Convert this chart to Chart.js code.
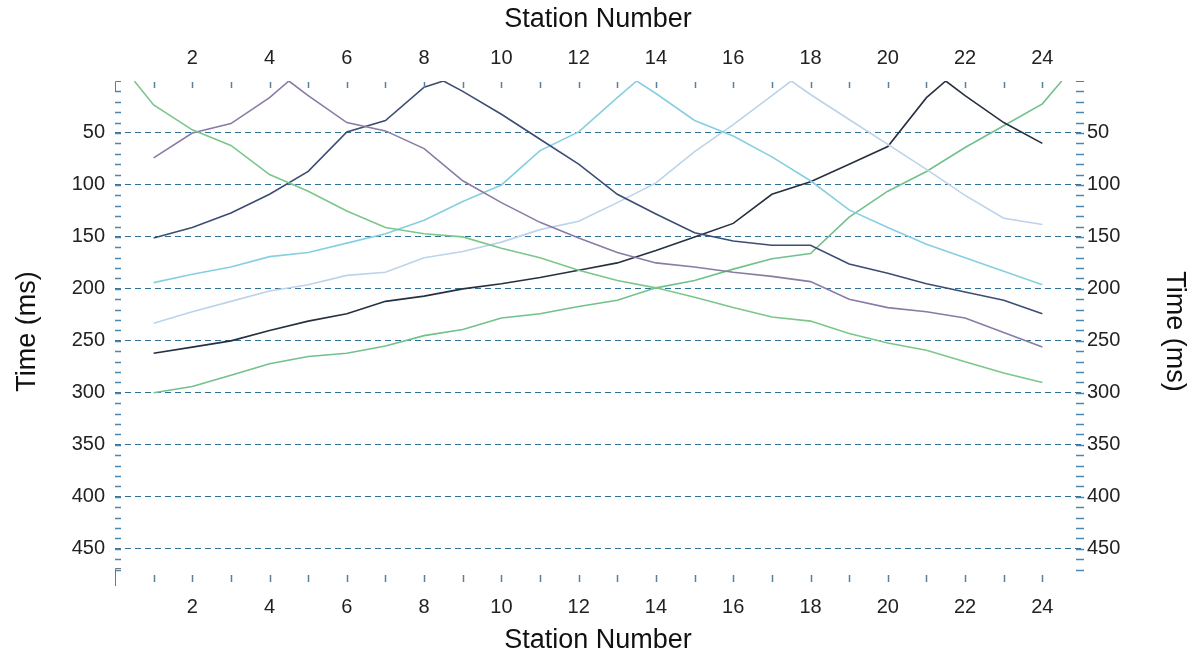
<!DOCTYPE html>
<html><head><meta charset="utf-8">
<script src="https://cdn.jsdelivr.net/npm/chart.js@4.4.1/dist/chart.umd.min.js"></script>
<style>html,body{margin:0;padding:0;background:#fff;}#wrap{width:1194px;height:657px;}</style>
</head><body><div id="wrap"><canvas id="c" width="1194" height="657"></canvas></div>
<script>
// Station tick labels
const xTickLabels = [2,4,6,8,10,12,14,16,18,20,22,24];
const yTickLabels = [50,100,150,200,250,300,350,400,450];

// Shot at station 0.5 (green, descending)
const shotA_x = [0.5,1,2,3,4,5,6,7,8,9,10,11,12,13,14,15,16,17,18,19,20,21,22,23,24];
const shotA_t = [0,23,47,62,90,106,125,141,147,150,161,170,182,192,199,208,218,227,231,243,252,259,270,281,290];
// Shot at station 4.5 (purple)
const shotB_x = [1,2,3,4,4.5,5,6,7,8,9,10,11,12,13,14,15,16,17,18,19,20,21,22,23,24];
const shotB_t = [74,50,41,16,0,14,40,48,65,96,117,136,151,165,175,179,184,188,193,210,218,222,228,242,256];
// Shot at station 8.5 (dark blue)
const shotC_x = [1,2,3,4,5,6,7,8,8.5,9,10,11,12,13,14,15,16,17,18,19,20,21,22,23,24];
const shotC_t = [151,141,127,109,87,49,38,6,0,10,32,56,80,109,128,146,154,158,158,176,185,195,203,211,224];
// Shot at station 13.5 (cyan)
const shotD_x = [1,2,3,4,5,6,7,8,9,10,11,12,13,13.5,14,15,16,17,18,19,20,21,22,23,24];
const shotD_t = [194,186,179,169,165,156,147,134,116,100,67,49,16,0,12,38,53,73,96,124,141,157,170,183,196];
// Shot at station 17.5 (pale blue)
const shotE_x = [1,2,3,4,5,6,7,8,9,10,11,12,13,14,15,16,17,17.5,18,19,20,21,22,23,24];
const shotE_t = [233,222,212,202,196,187,184,170,164,155,143,135,117,98,68,42,14,0,13,37,61,85,110,132,138];
// Shot at station 21.5 (black)
const shotF_x = [1,2,3,4,5,6,7,8,9,10,11,12,13,14,15,16,17,18,19,20,21,21.5,22,23,24];
const shotF_t = [262,256,250,240,231,224,212,207,200,195,189,182,175,163,150,137,109,97,80,63,16,0,14,40,60];
// Shot at station 24.5 (green, ascending)
const shotG_x = [1,2,3,4,5,6,7,8,9,10,11,12,13,14,15,16,17,18,19,20,21,22,23,24,24.5];
const shotG_t = [300,294,283,272,265,262,255,245,239,228,224,217,211,199,192,181,171,166,131,106,87,64,43,22,0];

const pts = (xs, ts) => xs.map((x, i) => ({x: x, y: ts[i]}));
const mk = (xs, ts, color) => ({data: pts(xs, ts), borderColor: color, borderWidth: 1.6, pointRadius: 0, fill: false, tension: 0});

const FONT = "'Liberation Sans', Arial, sans-serif";

const tickPlugin = {
  id: 'ticks',
  afterDatasetsDraw(chart) {
    const ctx = chart.ctx, a = chart.chartArea, xs = chart.scales.x, ys = chart.scales.y;
    ctx.save();
    ctx.lineWidth = 1.5;
    ctx.strokeStyle = '#5a7f99';
    for (let s = 1; s <= 24; s++) {
      const px = Math.round(xs.getPixelForValue(s)) + 0.5;
      ctx.beginPath(); ctx.moveTo(px, a.top + 1); ctx.lineTo(px, a.top + 7); ctx.stroke();
      ctx.beginPath(); ctx.moveTo(px, a.bottom - 7); ctx.lineTo(px, a.bottom); ctx.stroke();
    }
    ctx.strokeStyle = '#4a86b0';
    for (let t = 10; t <= 470; t += 10) {
      const py = Math.round(ys.getPixelForValue(t)) + 0.5;
      ctx.beginPath(); ctx.moveTo(a.left, py); ctx.lineTo(a.left + 6, py); ctx.stroke();
      ctx.beginPath(); ctx.moveTo(a.right - 5, py); ctx.lineTo(a.right + 3, py); ctx.stroke();
    }
    ctx.strokeStyle = '#777';
    ctx.lineWidth = 1;
    ctx.beginPath();
    ctx.moveTo(a.left + 6, a.top + 0.5); ctx.lineTo(a.left + 0.5, a.top + 0.5); ctx.lineTo(a.left + 0.5, a.top + 11);
    ctx.moveTo(a.left + 6, a.bottom - 13.5); ctx.lineTo(a.left + 0.5, a.bottom - 13.5); ctx.lineTo(a.left + 0.5, a.bottom + 4);
    ctx.moveTo(a.right - 5, a.top + 0.5); ctx.lineTo(a.right + 3, a.top + 0.5);
    ctx.stroke();
    ctx.restore();
  }
};

const xAxis = (pos, h) => ({
  type: 'linear', position: pos, min: 0, max: 25,
  afterBuildTicks: s => { s.ticks = xTickLabels.map(v => ({value: v})); },
  afterFit: s => { s.height = h; },
  grid: {display: false, drawTicks: false},
  border: {display: false},
  ticks: {font: {family: FONT, size: 20}, color: '#222', padding: pos === 'top' ? 11 : 13, maxRotation: 0, autoSkip: false},
  title: {display: true, text: 'Station Number', font: {family: FONT, size: 27}, color: '#111', padding: {top: 3, bottom: 0}}
});
const yAxis = (pos, w, grid) => ({
  type: 'linear', position: pos, reverse: true, min: 0, max: 482,
  afterBuildTicks: s => { s.ticks = yTickLabels.map(v => ({value: v})); },
  afterFit: s => { s.width = w; },
  grid: grid ? {display: true, drawTicks: false, color: '#2f6f94', lineWidth: 1} : {display: false, drawTicks: false},
  border: {display: false, dash: [6, 4]},
  ticks: {font: {family: FONT, size: 20}, color: '#222', padding: pos === 'left' ? 10 : 6},
  title: {display: true, text: 'Time (ms)', font: {family: FONT, size: 27}, color: '#111', padding: {top: pos === 'left' ? 11 : 3, bottom: 0}}
});

new Chart(document.getElementById('c'), {
  type: 'line',
  data: {datasets: [
    mk(shotA_x, shotA_t, '#7cc68a'),
    mk(shotB_x, shotB_t, '#8a7aa6'),
    mk(shotC_x, shotC_t, '#3c4d73'),
    mk(shotD_x, shotD_t, '#86cfe0'),
    mk(shotE_x, shotE_t, '#bcd3ea'),
    mk(shotF_x, shotF_t, '#263040'),
    mk(shotG_x, shotG_t, '#72c08c')
  ]},
  options: {
    responsive: false, animation: false, devicePixelRatio: 1,
    layout: {padding: 0},
    plugins: {legend: {display: false}, tooltip: {enabled: false}},
    scales: {
      x: xAxis('bottom', 75),
      x2: xAxis('top', 81),
      y: yAxis('left', 115, true),
      y2: yAxis('right', 113, false)
    }
  },
  plugins: [tickPlugin]
});
</script></body></html>
